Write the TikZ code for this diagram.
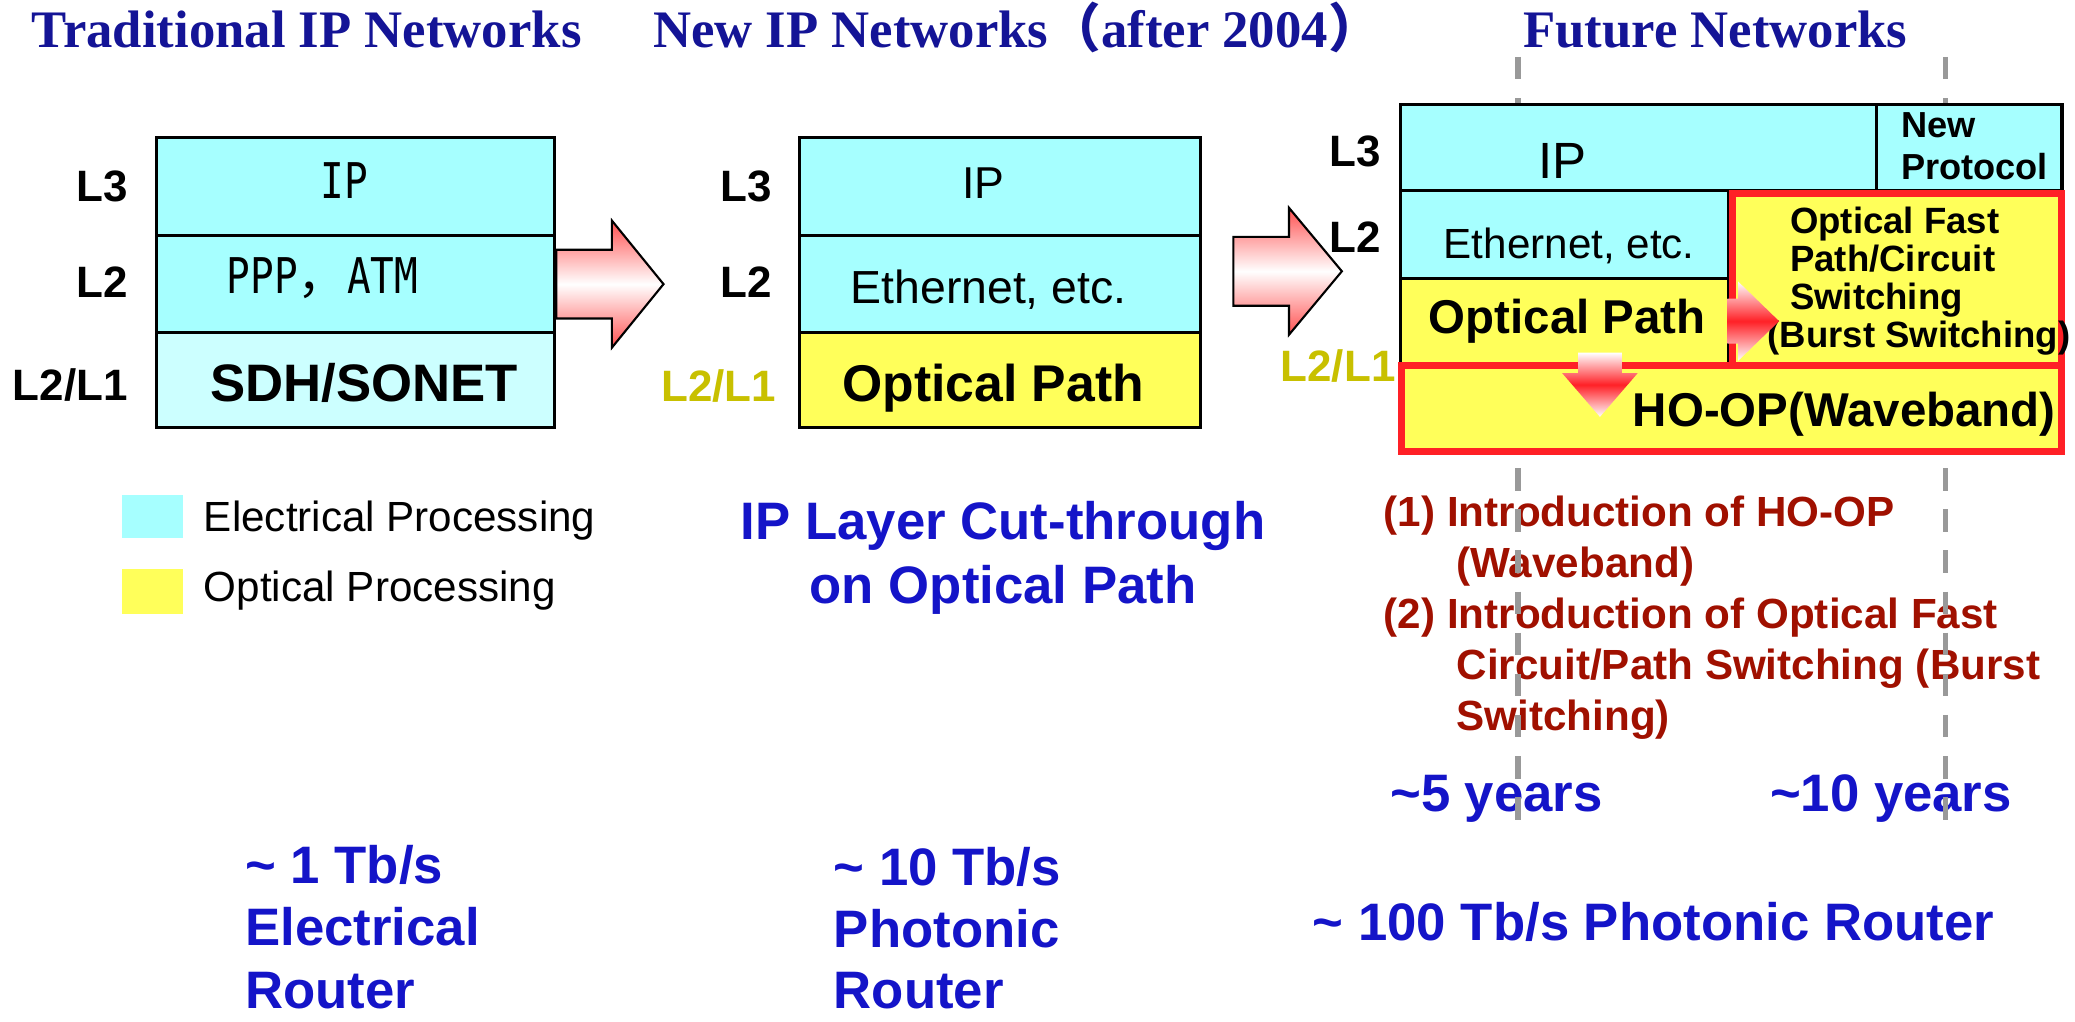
\documentclass[tikz,border=0pt]{standalone}
\usepackage{fontspec}
\setmainfont{Liberation Sans}
\newfontfamily\serifbf{Liberation Serif}
\newfontfamily\gothic{DejaVu Sans Mono}[FakeStretch=0.8]
\newfontfamily\cjk{Noto Sans CJK JP}
\usepackage{tikz}
\newcommand{\px}{0.13233mm}
\definecolor{eleccol}{RGB}{166,255,255}
\definecolor{elecl}{RGB}{204,255,255}
\definecolor{optcol}{RGB}{255,255,90}
\definecolor{olivecol}{RGB}{200,192,0}
\definecolor{navycol}{RGB}{20,20,150}
\definecolor{bluecol}{RGB}{20,20,200}
\definecolor{brickcol}{RGB}{160,16,0}
\definecolor{redcol}{RGB}{255,32,38}
\definecolor{arrowcol}{RGB}{255,80,80}
\definecolor{greycol}{RGB}{153,153,153}

\begin{document}
\begin{tikzpicture}[x=0.13233mm, y=-0.13233mm,
		cell/.style 2 args={draw=black, line width=0.9pt, inner sep=0pt, anchor=north west,
			minimum width=#1*\px, minimum height=#2*\px},
		elec/.style 2 args={cell={#1}{#2}, fill=eleccol},
		opt/.style 2 args={cell={#1}{#2}, fill=optcol},
		redframe/.style 2 args={cell={#1}{#2}, draw=redcol, line width=2pt, fill=optcol},
		ttl/.style={font=\serifbf\bfseries\fontsize{15}{18}\selectfont, text=navycol, inner sep=0pt, anchor=base west},
		lyr/.style={font=\bfseries\fontsize{12.5}{15}\selectfont, inner sep=0pt, anchor=base east},
		txt/.style={inner sep=0pt, anchor=base},
		rate/.style={font=\bfseries\fontsize{15}{18.2}\selectfont, text=bluecol, inner sep=0pt},
		bigarrow/.style={draw=black, line width=0.6pt, top color=arrowcol, bottom color=arrowcol, middle color=white},
		smallarrow/.style={top color=white, bottom color=white, middle color=redcol},
		timeline/.style={draw=greycol, line width=1.6pt, dash pattern=on 6.4pt off 5.3pt}
		]
		\useasboundingbox (0,0) rectangle (1568,772);

		\node[ttl] (tTrad) at (23.6,36) {Traditional IP Networks};
		\node[ttl] (tNew) at (493,36) {New IP Networks{\cjk （}after 2004{\cjk ）}};
		\node[ttl] (tFut) at (1150.5,36) {Future Networks};

		\node[rate, align=center, anchor=north] (cut) at (758,378.6) {IP Layer Cut-through\\on Optical Path};
		\node[rate, align=left, anchor=north west, font=\bfseries\fontsize{15}{17.8}\selectfont]
			(rate1) at (184.8,638) {\textasciitilde{} 1 Tb/s\\Electrical\\Router};
		\node[rate, align=left, anchor=north west, font=\bfseries\fontsize{15}{17.5}\selectfont]
			(rate2) at (629.6,640) {\textasciitilde{} 10 Tb/s\\Photonic\\Router};
		\node[rate, anchor=base west] (yr5) at (1050,613.5) {\textasciitilde5 years};
		\node[rate, anchor=base west] (yr10) at (1337,613.5) {\textasciitilde10 years};
		\node[rate, anchor=base west] (rate3) at (991.6,711) {\textasciitilde{} 100 Tb/s Photonic Router};
		\node[font=\bfseries\fontsize{12}{14.5}\selectfont, text=brickcol, inner sep=0pt, align=left, anchor=north west]
			(steps) at (1045.2,374.5) {(1) Introduction of HO-OP\\\hspace*{20.7pt}(Waveband)\\(2) Introduction of Optical Fast\\\hspace*{20.7pt}Circuit/Path Switching (Burst\\\hspace*{20.7pt}Switching)};

		\node[cell={46}{33}, draw=none, fill=eleccol] (keyE) at (91,372.7) {};
		\node[txt, anchor=base west, font=\fontsize{12}{14}\selectfont] (keyEt) at (153.6,401.9) {Electrical Processing};
		\node[cell={46}{34}, draw=none, fill=optcol] (keyO) at (91,428.5) {};
		\node[txt, anchor=base west, font=\fontsize{12}{14}\selectfont] (keyOt) at (153.6,454.4) {Optical Processing};

		\coordinate (t5a) at (1147,43);
		\coordinate (t5b) at (1147,633);
		\coordinate (t10a) at (1470,43);
		\coordinate (t10b) at (1470,633);
		\draw[timeline] (t5a) -- (t5b);
		\draw[timeline] (t10a) -- (t10b);

		\node[elec={301}{74}] (ipA) at (117,103) {};
		\node[elec={301}{73}] (pppA) at (117,177) {};
		\node[elec={301}{72}, fill=elecl] (sdhA) at (117,250) {};
		\node[txt, font=\gothic\fontsize{14}{16}\selectfont] (ipAt) at (260,150) {IP};
		\node[txt, font=\gothic\fontsize{14}{16}\selectfont] (pppAt) at (243.7,221.7) {PPP{\cjk ，}ATM};
		\node[txt, font=\bfseries\fontsize{15}{18}\selectfont] (sdhAt) at (275,303.6) {SDH/SONET};
		\node[lyr] (l3A) at (97,152.5) {L3};
		\node[lyr] (l2A) at (97,225) {L2};
		\node[lyr] (l1A) at (97,303) {L2/L1};

		\node[elec={303}{74}] (ipB) at (603,103) {};
		\node[elec={303}{73}] (ethB) at (603,177) {};
		\node[opt={303}{72}] (opB) at (603,250) {};
		\node[txt, font=\fontsize{12.7}{15}\selectfont] (ipBt) at (743,150) {IP};
		\node[txt, font=\fontsize{13.2}{15}\selectfont] (ethBt) at (747,229.7) {Ethernet, etc.};
		\node[txt, font=\bfseries\fontsize{14.7}{17}\selectfont] (opBt) at (750.5,303.5) {Optical Path};
		\node[lyr] (l3B) at (584,152) {L3};
		\node[lyr] (l2B) at (584,225) {L2};
		\node[lyr, text=olivecol] (l1B) at (587,303.5) {L2/L1};

		\shadedraw[bigarrow, shift={(pppA.east)}] (0,-26) -- (42,-26) -- (42,-48) -- (81,0) -- (42,48) -- (42,26) -- (0,26) -- cycle;
		\shadedraw[bigarrow, shift={(932,205)}] (0,-26) -- (42,-26) -- (42,-48) -- (82,0) -- (42,48) -- (42,26) -- (0,26) -- cycle;

		\node[elec={360}{65}] (ipC) at (1057,78) {};
		\node[elec={140}{65}] (npC) at (1417,78) {};
		\node[elec={248}{66}] (ethC) at (1057,143) {};
		\node[opt={248}{65}] (opC) at (1057,209) {};
		\node[redframe={248.5}{129.5}] (fastC) at (1306.75,143.75) {};
		\node[redframe={498.5}{65}] (hoopC) at (1056.75,273.75) {};
		\node[txt, font=\fontsize{14.5}{17}\selectfont] (ipCt) at (1181,134.8) {IP};
		\node[font=\bfseries\fontsize{10.3}{11.9}\selectfont, inner sep=0pt, align=left, anchor=north west]
			(npCt) at (1436,84.4) {New\\Protocol};
		\node[txt, font=\fontsize{12}{14}\selectfont] (ethCt) at (1185.8,195.2) {Ethernet, etc.};
		\node[txt, font=\bfseries\fontsize{13.5}{16}\selectfont] (opCt) at (1184.4,251.8) {Optical Path};
		\node[font=\bfseries\fontsize{10.4}{10.8}\selectfont, inner sep=0pt, align=left, anchor=north west]
			(fastCt) at (1352.2,156) {Optical Fast\\Path/Circuit\\Switching\\\hspace*{-6.4pt}(Burst Switching)};
		\node[txt, anchor=base west, font=\bfseries\fontsize{13.5}{16}\selectfont] (hoopCt) at (1233.4,322.4) {HO-OP(Waveband)};
		\node[lyr] (l3C) at (1044,126) {L3};
		\node[lyr] (l2C) at (1044,191) {L2};
		\node[lyr, text=olivecol] (l1C) at (1055,288.5) {L2/L1};

		\shade[smallarrow, shift={(opC.east)}] (-2,-17) -- (6,-17) -- (6,-30) -- (37,0) -- (6,30) -- (6,17) -- (-2,17) -- cycle;
		\shade[smallarrow, shift={(1209,266.5)}] (-16.5,0) -- (16.5,0) -- (16.5,15.5) -- (28.5,15.5) -- (0,48.5) -- (-28.5,15.5) -- (-16.5,15.5) -- cycle;
	\end{tikzpicture}
\end{document}
